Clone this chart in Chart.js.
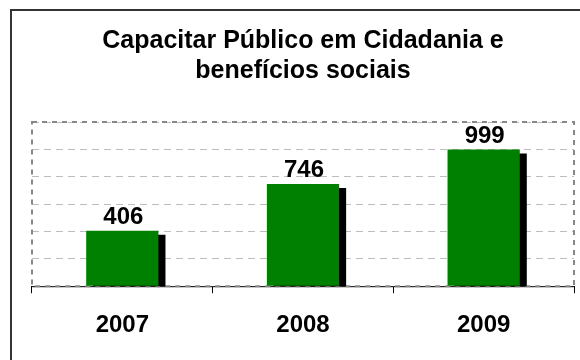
<!DOCTYPE html>
<html>
<head>
<meta charset="utf-8">
<script src="https://cdn.jsdelivr.net/npm/chart.js@4/dist/chart.umd.min.js"></script>
<style>
  html, body { margin: 0; padding: 0; background: #fff; overflow: hidden; }
  #wrap { position: relative; width: 580px; height: 360px; }
  #frame { position: absolute; left: 10px; top: 9px; width: 620px; height: 420px; border: 2px solid #333; box-sizing: border-box; }
  #c { position: absolute; left: 0; top: 0; }
</style>
</head>
<body>
<div id="wrap">
  <div id="frame"></div>
  <canvas id="c" width="580" height="360"></canvas>
</div>
<script>
const titleLines = ['Capacitar Público em Cidadania e', 'benefícios sociais'];
const categories = ['2007', '2008', '2009'];
const values = [406, 746, 999];
const yMax = 1200;
const yStep = 200;

const FONT = "'Liberation Sans', Arial, sans-serif";

const plotBorder = {
  id: 'plotBorder',
  beforeDatasetsDraw(chart) {
    const { ctx, chartArea: a } = chart;
    ctx.save();
    ctx.strokeStyle = '#000';
    ctx.lineWidth = 1;
    ctx.beginPath();
    ctx.moveTo(a.left, a.bottom + 0.5);
    ctx.lineTo(a.right, a.bottom + 0.5);
    ctx.stroke();
    ctx.strokeStyle = '#888';
    ctx.lineWidth = 2;
    ctx.setLineDash([5, 5]);
    ctx.strokeRect(a.left, a.top, a.right - a.left, a.bottom - a.top);
    ctx.restore();
  }
};

const barShadow = {
  id: 'barShadow',
  beforeDatasetDraw(chart) {
    const ctx = chart.ctx;
    ctx.shadowColor = '#000';
    ctx.shadowBlur = 0;
    ctx.shadowOffsetX = 7;
    ctx.shadowOffsetY = 4;
  },
  afterDatasetDraw(chart) {
    const ctx = chart.ctx;
    ctx.shadowColor = 'rgba(0,0,0,0)';
    ctx.shadowOffsetX = 0;
    ctx.shadowOffsetY = 0;
  }
};

const valueLabels = {
  id: 'valueLabels',
  afterDatasetsDraw(chart) {
    const { ctx } = chart;
    const meta = chart.getDatasetMeta(0);
    ctx.save();
    ctx.fillStyle = '#000';
    ctx.font = 'bold 24px ' + FONT;
    ctx.textAlign = 'center';
    ctx.textBaseline = 'alphabetic';
    meta.data.forEach((bar, i) => {
      ctx.fillText(String(chart.data.datasets[0].data[i]), bar.x + 1, bar.y - 7);
    });
    ctx.restore();
  }
};

new Chart(document.getElementById('c'), {
  type: 'bar',
  data: {
    labels: categories,
    datasets: [{
      data: values,
      backgroundColor: '#008000',
      borderWidth: 0,
      barPercentage: 0.8,
      categoryPercentage: 0.5,
      clip: 0
    }]
  },
  options: {
    responsive: false,
    animation: false,
    devicePixelRatio: 1,
    layout: { padding: { left: 32, right: 6, top: 0, bottom: 2 } },
    plugins: {
      legend: { display: false },
      tooltip: { enabled: false },
      title: {
        display: true,
        text: titleLines,
        color: '#000',
        font: { family: FONT, size: 25, weight: 'bold', lineHeight: 1.2 },
        padding: { top: 26, bottom: 36 }
      }
    },
    scales: {
      x: {
        grid: {
          display: true,
          drawOnChartArea: false,
          drawTicks: true,
          tickLength: 7,
          color: '#000',
          offset: true
        },
        border: { display: false },
        ticks: {
          color: '#000',
          font: { family: FONT, size: 24, weight: 'bold' },
          padding: 18
        }
      },
      y: {
        min: 0,
        max: yMax,
        ticks: { display: false, stepSize: yStep },
        grid: {
          drawTicks: false,
          color: '#bdbdbd',
          lineWidth: 1
        },
        border: { display: false, dash: [7, 5] }
      }
    }
  },
  plugins: [plotBorder, barShadow, valueLabels]
});
</script>
</body>
</html>
